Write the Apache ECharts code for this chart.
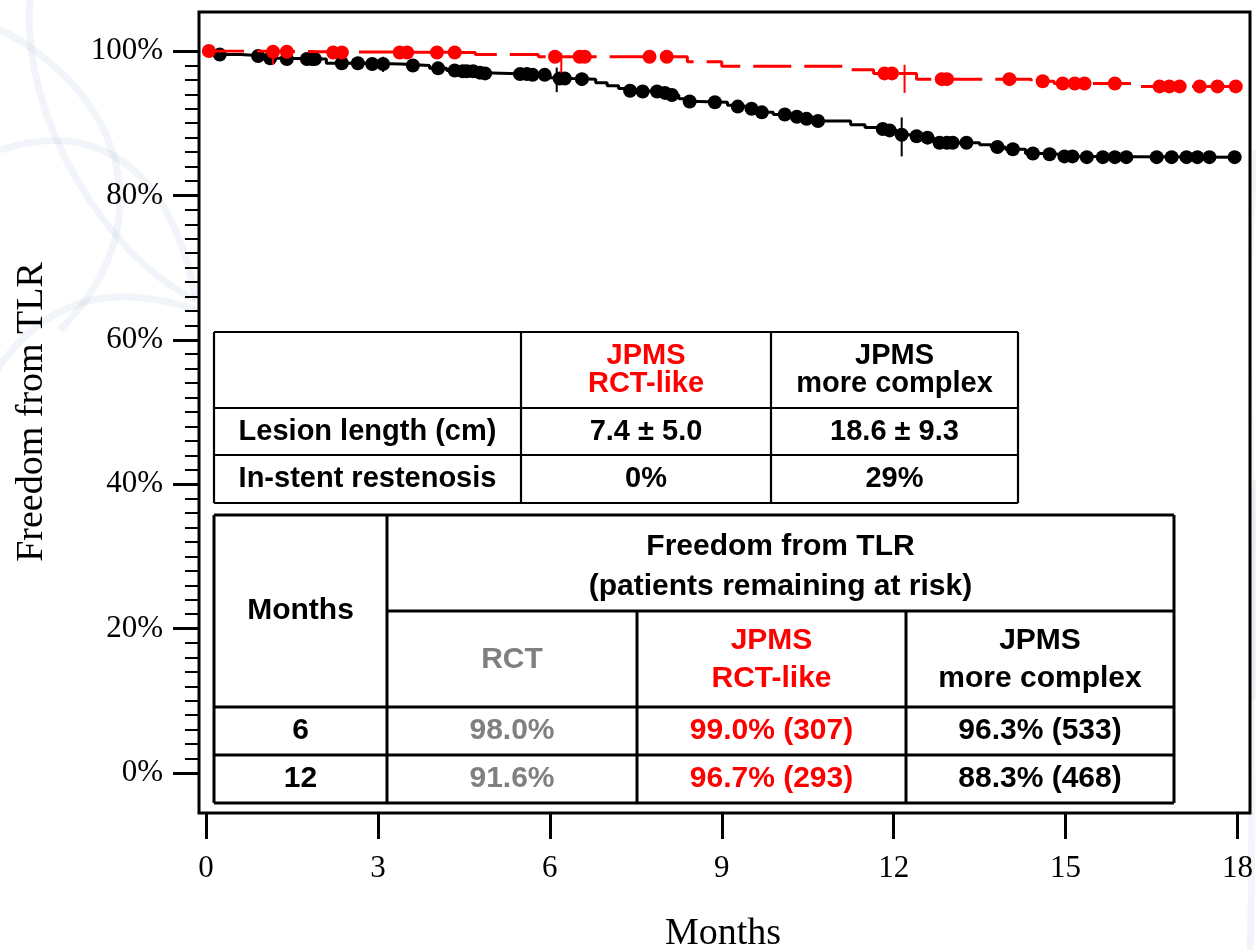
<!DOCTYPE html>
<html>
<head>
<meta charset="utf-8">
<script src="https://cdn.jsdelivr.net/npm/echarts@6/dist/echarts.min.js"></script>
<style>
html,body{margin:0;padding:0;background:#fff;}
#chart{width:1256px;height:950px;}
</style>
</head>
<body>
<div id="chart"></div>
<script>
// ---------------- DATA ----------------
const xTicks = [0, 3, 6, 9, 12, 15, 18];
const yTicks = [0, 20, 40, 60, 80, 100];

// JPMS RCT-like (red, dashed): drops (events) and censor marks
const redEvents = [[0,100],[0.9,99.9],[2.0,99.8],[4.7,99.5],[5.8,99.2],[8.4,98.5],[9.0,97.9],[11.2,97.4],[11.65,96.9],[12.4,96.1],[14.4,95.8],[14.8,95.5],[16.3,95.1],[18,95.1]];
const redCensored = [[0.05,100],[1.17,99.9],[1.41,99.9],[2.22,99.8],[2.37,99.8],[3.38,99.8],[3.51,99.8],[4.03,99.8],[4.34,99.8],
  [6.09,99.2],[6.52,99.2],[6.61,99.2],[7.74,99.2],[8.04,99.2],[11.84,96.9],[11.97,96.9],[12.84,96.1],[12.93,96.1],[14.02,96.1],
  [14.6,95.8],[14.95,95.5],[15.16,95.5],[15.33,95.5],[15.86,95.5],[16.64,95.1],[16.81,95.1],[16.99,95.1],[17.34,95.1],[17.65,95.1],[17.97,95.1]];
const redCI = [[1.17,98.1,100],[6.2,97.0,99.7],[12.19,94.2,98.1]];

// JPMS more complex (black, solid)
const blackEvents = [[0,100],[0.15,99.5],[0.6,99.3],[1.05,99.0],[1.3,98.9],[2.1,98.3],[2.8,98.2],[3.4,98.0],[3.9,97.6],[4.2,97.3],[4.42,97.2],
  [4.72,97.0],[4.83,96.9],[5.3,96.8],[5.65,96.7],[6.0,96.3],[6.1,96.2],[6.4,96.1],[6.8,95.6],[7.0,95.2],[7.2,94.8],[7.35,94.5],[7.5,94.4],
  [7.95,94.2],[8.08,93.9],[8.25,93.4],[8.38,93.0],[8.6,92.9],[9.1,92.5],[9.22,92.3],[9.45,92.0],[9.65,91.5],[9.9,91.2],[10.2,90.9],
  [10.4,90.6],[10.6,90.3],[11.25,89.8],[11.5,89.4],[11.7,89.2],[11.88,89.0],[12.05,88.4],[12.3,88.2],[12.5,88.0],[12.7,87.3],[13.5,87.0],
  [13.7,86.7],[13.95,86.4],[14.3,85.8],[14.6,85.7],[14.9,85.4],[15.3,85.3],[18,85.3]];
const blackCensored = [[0.24,99.5],[0.91,99.3],[1.12,99.0],[1.41,98.9],[1.76,98.9],[1.85,98.9],[1.90,98.9],[2.37,98.3],[2.65,98.3],[2.90,98.2],
  [3.09,98.2],[3.61,98.0],[4.05,97.6],[4.34,97.3],[4.48,97.2],[4.55,97.2],[4.66,97.2],[4.78,97.0],[4.87,96.9],[5.48,96.8],[5.60,96.8],
  [5.70,96.7],[5.91,96.7],[6.17,96.2],[6.26,96.2],[6.56,96.1],[7.40,94.5],[7.62,94.4],[7.87,94.4],[8.01,94.2],[8.13,93.9],[8.44,93.0],
  [8.88,92.9],[9.28,92.3],[9.52,92.0],[9.70,91.5],[10.10,91.2],[10.31,90.9],[10.48,90.6],[10.68,90.3],[11.81,89.2],[11.93,89.0],[12.14,88.4],
  [12.40,88.2],[12.59,88.0],[12.80,87.3],[12.93,87.3],[13.03,87.3],[13.27,87.3],[13.81,86.7],[14.08,86.4],[14.43,85.8],[14.72,85.7],
  [14.98,85.4],[15.12,85.4],[15.37,85.3],[15.65,85.3],[15.86,85.3],[16.06,85.3],[16.59,85.3],[16.85,85.3],[17.11,85.3],[17.30,85.3],
  [17.51,85.3],[17.95,85.3]];
const blackCI = [[3.09,97.1,99.2],[6.12,94.3,97.7],[12.14,85.4,90.8]];

// Table 1
const t1Header = ['', 'JPMS\nRCT-like', 'JPMS\nmore complex'];
const t1HeaderColors = ['#000000', '#ff0000', '#000000'];
const t1Rows = [['Lesion length (cm)', '7.4 \u00b1 5.0', '18.6 \u00b1 9.3'], ['In-stent restenosis', '0%', '29%']];

// Table 2
const t2Title = 'Freedom from TLR\n(patients remaining at risk)';
const t2FirstCol = 'Months';
const t2Groups = ['RCT', 'JPMS\nRCT-like', 'JPMS\nmore complex'];
const t2GroupColors = ['#808080', '#ff0000', '#000000'];
const t2Months = ['6', '12'];
const t2Values = [['98.0%', '99.0% (307)', '96.3% (533)'], ['91.6%', '96.7% (293)', '88.3% (468)']];

// ---------------- BUILD ----------------
function stepData(events, cens) {
  return events.concat(cens).sort((a, b) => a[0] - b[0]);
}
const SERIF = "'Liberation Serif','Times New Roman',serif";
const SANS = "'Liberation Sans',Arial,sans-serif";

const graphics = [];
// faint background swirls
const swirl = 'rgba(190,203,224,0.22)';
[
  [[-20,20],[120,80],[170,220],[60,330]],
  [[0,150],[90,120],[170,160],[196,300]],
  [[30,0],[20,120],[110,260],[196,300]],
  [[-10,380],[40,300],[110,280],[196,310]],
  [[1256,150],[1240,300],[1256,500],[1252,700]],
  [[1256,480],[1245,600],[1256,800],[1250,950]]
].forEach(p => graphics.push({type:'bezierCurve', z:-10, silent:true,
  shape:{x1:p[0][0],y1:p[0][1],cpx1:p[1][0],cpy1:p[1][1],cpx2:p[2][0],cpy2:p[2][1],x2:p[3][0],y2:p[3][1]},
  style:{stroke:swirl, lineWidth:7, fill:null}}));
// white plot interior covering swirls
graphics.push({type:'rect', z:-5, silent:true, shape:{x:199, y:12, width:1051, height:801}, style:{fill:'#fff', stroke:null}});

// plot frame
graphics.push({type:'rect', z:5, shape:{x:199, y:12, width:1051, height:801}, style:{fill:null, stroke:'#000', lineWidth:3}});

function hline(x1, x2, y, w) { graphics.push({type:'line', z:20, shape:{x1:x1, y1:y, x2:x2, y2:y}, style:{stroke:'#000', lineWidth:w}}); }
function vline(x, y1, y2, w) { graphics.push({type:'line', z:20, shape:{x1:x, y1:y1, x2:x, y2:y2}, style:{stroke:'#000', lineWidth:w}}); }
function txt(s, x, y, color, size, lh) {
  graphics.push({type:'text', z:21, x:x, y:y, style:{text:s, fill:color, font:'bold ' + size + 'px ' + SANS,
    textAlign:'center', textVerticalAlign:'middle', lineHeight:lh || size}});
}

// Table 1 layout
const t1x = [214, 521, 771, 1018], t1y = [332, 408, 455, 503];
graphics.push({type:'rect', z:19, shape:{x:t1x[0], y:t1y[0], width:t1x[3]-t1x[0], height:t1y[3]-t1y[0]}, style:{fill:'#fff', stroke:null}});
t1y.forEach(y => hline(t1x[0], t1x[3], y, 2.2));
t1x.forEach(x => vline(x, t1y[0], t1y[3], 2.2));
t1Header.forEach((s, i) => { if (s) txt(s, (t1x[i]+t1x[i+1])/2, (t1y[0]+t1y[1])/2, t1HeaderColors[i], 29, 28); });
t1Rows.forEach((r, j) => r.forEach((s, i) => txt(s, (t1x[i]+t1x[i+1])/2, (t1y[j+1]+t1y[j+2])/2, '#000', 29)));

// Table 2 layout
const t2x = [214, 387, 637, 906, 1174], t2y = [515, 611, 707, 755, 803];
graphics.push({type:'rect', z:19, shape:{x:t2x[0], y:t2y[0], width:t2x[4]-t2x[0], height:t2y[4]-t2y[0]}, style:{fill:'#fff', stroke:null}});
hline(t2x[0], t2x[4], t2y[0], 3);
hline(t2x[1], t2x[4], t2y[1], 3);
hline(t2x[0], t2x[4], t2y[2], 3);
hline(t2x[0], t2x[4], t2y[3], 3);
hline(t2x[0], t2x[4], t2y[4], 3);
vline(t2x[0], t2y[0], t2y[4], 3);
vline(t2x[1], t2y[0], t2y[4], 3);
vline(t2x[2], t2y[1], t2y[4], 3);
vline(t2x[3], t2y[1], t2y[4], 3);
vline(t2x[4], t2y[0], t2y[4], 3);
txt(t2FirstCol, (t2x[0]+t2x[1])/2, (t2y[0]+t2y[2])/2, '#000', 30);
txt(t2Title, (t2x[1]+t2x[4])/2, (t2y[0]+t2y[1])/2 + 4, '#000', 30, 40);
t2Groups.forEach((s, i) => txt(s, (t2x[i+1]+t2x[i+2])/2, (t2y[1]+t2y[2])/2 + 1, t2GroupColors[i], 30, 38));
t2Months.forEach((m, j) => {
  txt(m, (t2x[0]+t2x[1])/2, (t2y[j+2]+t2y[j+3])/2, '#000', 30);
  t2Values[j].forEach((s, i) => txt(s, (t2x[i+1]+t2x[i+2])/2, (t2y[j+2]+t2y[j+3])/2, t2GroupColors[i], 30));
});

// axis titles
graphics.push({type:'text', z:10, x:32, y:412, rotation:Math.PI/2,
  style:{text:'Freedom from TLR', fill:'#000', font:'38px ' + SERIF, textAlign:'center', textVerticalAlign:'middle'}});
graphics.push({type:'text', z:10, x:723, y:934,
  style:{text:'Months', fill:'#000', font:'38px ' + SERIF, textAlign:'center', textVerticalAlign:'middle'}});

function ciSeries(data, color) {
  return {type:'custom', z:6, data:data, encode:{x:0, y:[1,2]},
    renderItem: function (params, api) {
      const a = api.coord([api.value(0), api.value(1)]);
      const b = api.coord([api.value(0), api.value(2)]);
      return {type:'line', shape:{x1:a[0], y1:a[1], x2:b[0], y2:b[1]}, style:{stroke:color, lineWidth:2}};
    }};
}

const chart = echarts.init(document.getElementById('chart'), null, {renderer:'canvas'});
chart.setOption({
  animation:false,
  backgroundColor:'#fff',
  grid:{left:206, top:51, width:1032, height:722, containLabel:false},
  xAxis:{type:'value', min:xTicks[0], max:xTicks[xTicks.length-1], interval:3, offset:40,
    axisLine:{show:false, onZero:false}, splitLine:{show:false},
    axisTick:{show:true, length:26, lineStyle:{color:'#000', width:3}},
    axisLabel:{color:'#000', fontSize:31, fontFamily:SERIF, margin:40, formatter: v => xTicks.indexOf(v) >= 0 ? String(v) : ''}},
  yAxis:{type:'value', min:yTicks[0], max:yTicks[yTicks.length-1], interval:20, offset:7,
    axisLine:{show:false, onZero:false}, splitLine:{show:false},
    axisTick:{show:true, length:26, lineStyle:{color:'#000', width:3}},
    minorTick:{show:true, splitNumber:10, length:14, lineStyle:{color:'#000', width:2}},
    axisLabel:{color:'#000', fontSize:31, fontFamily:SERIF, margin:36, formatter:'{value}%'}},
  graphic: graphics,
  series:[
    {name:'JPMS more complex', type:'line', step:'end', symbol:'none', z:3, data:stepData(blackEvents, []),
      lineStyle:{color:'#000', width:3}},
    {name:'JPMS more complex censored', type:'scatter', z:4, data:blackCensored, symbolSize:14,
      itemStyle:{color:'#000', opacity:1}},
    ciSeries(blackCI, '#000'),
    {name:'JPMS RCT-like', type:'line', step:'end', symbol:'none', z:5, data:stepData(redEvents, []),
      lineStyle:{color:'#ff0000', width:3, type:[38,13]}},
    {name:'JPMS RCT-like censored', type:'scatter', z:6, data:redCensored, symbolSize:14,
      itemStyle:{color:'#ff0000', opacity:1}},
    ciSeries(redCI, '#ff0000')
  ]
});
</script>
</body>
</html>
